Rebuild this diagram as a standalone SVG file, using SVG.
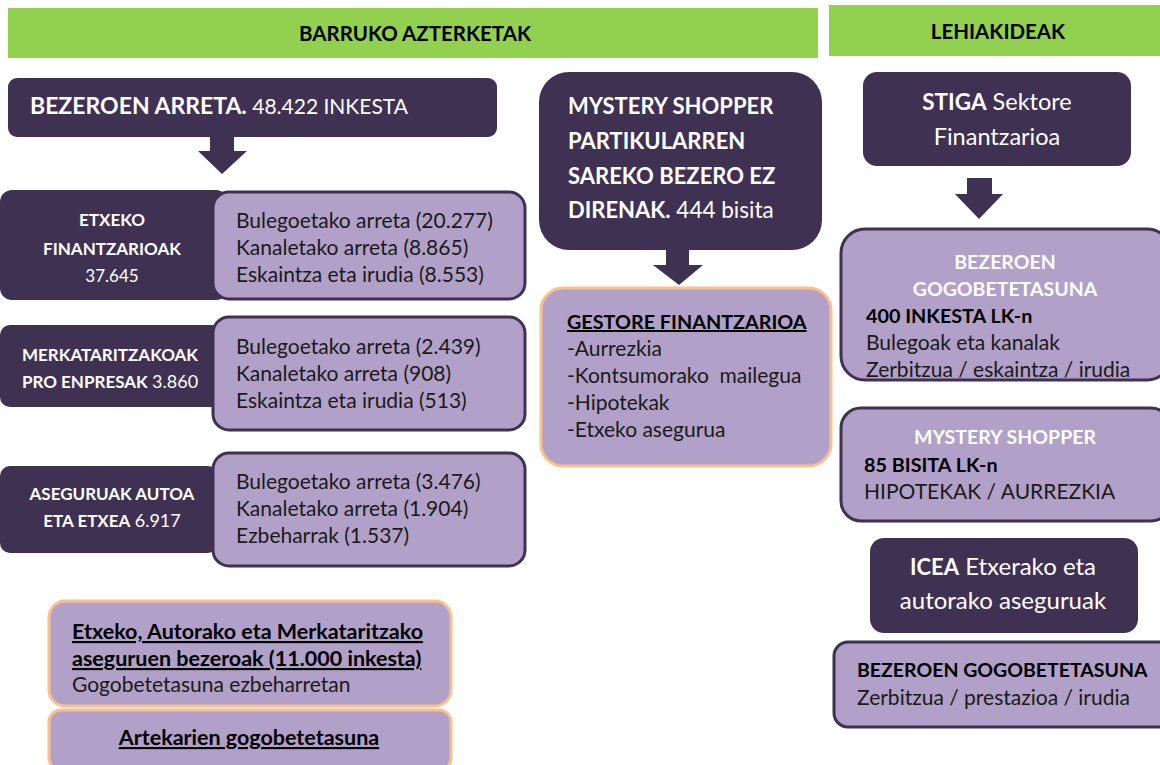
<svg xmlns="http://www.w3.org/2000/svg" width="1160" height="765" viewBox="0 0 1160 765">
<defs>
<style>
text{font-family:Lato,"Open Sans","Liberation Sans",sans-serif;}
.green{fill:#92D050;}
.dark{fill:#3F3151;}
.light{fill:#B1A0C7;stroke:#3F3151;stroke-width:3;}
.orange{fill:#B1A0C7;stroke:#FAC090;stroke-width:3;}
.hdr{font-size:20.5px;font-weight:bold;fill:#000;text-anchor:middle;}
.wb{fill:#fff;font-weight:bold;}
.w{fill:#fff;}
.k{fill:#1a1a1a;font-size:21px;}
.kb{fill:#000;font-weight:bold;font-size:19.8px;}
.u{text-decoration:underline;}
.lbl{font-size:17px;text-anchor:middle;fill:#fff;}
.arrow{fill:#3F3151;}
</style>
</defs>
<rect width="1160" height="765" fill="#fff"/>
<g id="header-barruko">
<rect class="green" x="8" y="8" width="810" height="50"/>
<text class="hdr" x="415" y="41">BARRUKO AZTERKETAK</text>
</g>
<g id="header-lehiakideak">
<rect class="green" x="829" y="5" width="331" height="51"/>
<text class="hdr" x="998" y="39" font-size="21.5">LEHIAKIDEAK</text>
</g>
<g id="connectors">
<path class="arrow" d="M210,135 H234 V151 H247 L222,174 L198,151 H210 Z"/>
<path class="arrow" d="M666,250 H689 V265 H703 L679,285 L653,265 H666 Z"/>
<path class="arrow" d="M967,178 H992 V194 H1003 L979,219 L955,194 H967 Z"/>
</g>
<g id="bezeroen-arreta">
<rect class="dark" x="8" y="78" width="489" height="59" rx="9"/>
<text x="30" y="114" font-size="21" class="w"><tspan font-weight="bold" font-size="23">BEZEROEN ARRETA.</tspan> 48.422 INKESTA</text>
</g>
<g id="etxeko-finantzarioak">
<rect class="dark" x="0" y="190" width="228" height="110" rx="12"/>
<text x="112" y="226" class="lbl" font-weight="bold">ETXEKO</text>
<text x="112" y="255" class="lbl" font-weight="bold">FINANTZARIOAK</text>
<text x="112" y="282" class="lbl" font-size="18">37.645</text>
</g>
<g id="etxeko-detail">
<rect class="light" x="213" y="192" width="312" height="107" rx="16"/>
<text x="236" y="228" class="k">Bulegoetako arreta (20.277)</text>
<text x="236" y="255" class="k">Kanaletako arreta (8.865)</text>
<text x="236" y="282" class="k">Eskaintza eta irudia (8.553)</text>
</g>
<g id="merkataritzakoak">
<rect class="dark" x="0" y="325" width="222" height="82" rx="10"/>
<text x="110" y="361" class="lbl" font-weight="bold">MERKATARITZAKOAK</text>
<text x="110" y="388" class="lbl"><tspan font-weight="bold">PRO ENPRESAK</tspan> <tspan font-size="18">3.860</tspan></text>
</g>
<g id="merkataritzakoak-detail">
<rect class="light" x="213" y="317" width="312" height="113" rx="16"/>
<text x="236" y="354" class="k">Bulegoetako arreta (2.439)</text>
<text x="236" y="381" class="k">Kanaletako arreta (908)</text>
<text x="236" y="408" class="k">Eskaintza eta irudia (513)</text>
</g>
<g id="aseguruak">
<rect class="dark" x="0" y="466" width="218" height="87" rx="10"/>
<text x="112" y="500" class="lbl" font-weight="bold">ASEGURUAK AUTOA</text>
<text x="112" y="527" class="lbl"><tspan font-weight="bold">ETA ETXEA</tspan> <tspan font-size="18">6.917</tspan></text>
</g>
<g id="aseguruak-detail">
<rect class="light" x="213" y="453" width="312" height="113" rx="16"/>
<text x="236" y="489" class="k">Bulegoetako arreta (3.476)</text>
<text x="236" y="516" class="k">Kanaletako arreta (1.904)</text>
<text x="236" y="543" class="k">Ezbeharrak (1.537)</text>
</g>
<g id="etxeko-autorako">
<rect class="orange" x="49" y="601" width="402" height="105" rx="16"/>
<text x="72" y="639" class="kb u" style="font-size:21.5px">Etxeko, Autorako eta Merkataritzako</text>
<text x="72" y="666" class="kb u" style="font-size:21.5px">aseguruen bezeroak (11.000 inkesta)</text>
<text x="72" y="692" class="k">Gogobetetasuna ezbeharretan</text>
</g>
<g id="artekarien">
<rect class="orange" x="49" y="710" width="402" height="60" rx="12"/>
<text x="249" y="745" text-anchor="middle" class="kb u" style="font-size:21.5px">Artekarien gogobetetasuna</text>
</g>
<g id="mystery-shopper">
<rect class="dark" x="539" y="72" width="283" height="178" rx="30"/>
<text x="568" y="114" font-size="22" class="wb">MYSTERY SHOPPER</text>
<text x="568" y="149" font-size="22" class="wb">PARTIKULARREN</text>
<text x="568" y="184" font-size="22" class="wb">SAREKO BEZERO EZ</text>
<text x="568" y="218" font-size="22.5" class="w"><tspan font-weight="bold" font-size="22">DIRENAK.</tspan> 444 bisita</text>
</g>
<g id="gestore-finantzarioa">
<rect class="orange" x="541" y="288" width="290" height="178" rx="22"/>
<text x="567" y="329" class="kb u">GESTORE FINANTZARIOA</text>
<text x="567" y="356" class="k">-Aurrezkia</text>
<text x="567" y="383" class="k" xml:space="preserve">-Kontsumorako  mailegua</text>
<text x="567" y="410" class="k">-Hipotekak</text>
<text x="567" y="437" class="k">-Etxeko asegurua</text>
</g>
<g id="stiga">
<rect class="dark" x="863" y="72" width="268" height="94" rx="14"/>
<text x="997" y="110" font-size="23.5" text-anchor="middle" class="w"><tspan font-weight="bold" font-size="22.5">STIGA</tspan> Sektore</text>
<text x="997" y="145" font-size="23.5" text-anchor="middle" class="w">Finantzarioa</text>
</g>
<g id="bezeroen-gogobetetasuna">
<rect class="light" x="841" y="229" width="330" height="151" rx="24"/>
<text x="1005" y="269" font-size="19.5" text-anchor="middle" class="wb">BEZEROEN</text>
<text x="1005" y="296" font-size="19.5" text-anchor="middle" class="wb">GOGOBETETASUNA</text>
<text x="866" y="323" class="kb">400 INKESTA LK-n</text>
<text x="866" y="350" class="k">Bulegoak eta kanalak</text>
<text x="866" y="377" class="k">Zerbitzua / eskaintza / irudia</text>
</g>
<g id="mystery-shopper-lk">
<rect class="light" x="841" y="408" width="330" height="113" rx="20"/>
<text x="1005" y="444" font-size="19.5" text-anchor="middle" class="wb">MYSTERY SHOPPER</text>
<text x="864" y="472" class="kb">85 BISITA LK-n</text>
<text x="864" y="499" class="k">HIPOTEKAK / AURREZKIA</text>
</g>
<g id="icea">
<rect class="dark" x="870" y="538" width="268" height="95" rx="14"/>
<text x="1003" y="575" font-size="24" text-anchor="middle" class="w"><tspan font-weight="bold" font-size="22">ICEA</tspan> Etxerako eta</text>
<text x="1003" y="609" font-size="24" text-anchor="middle" class="w">autorako aseguruak</text>
</g>
<g id="icea-bezeroen">
<rect class="light" x="834" y="642" width="340" height="85" rx="14"/>
<text x="857" y="677" class="kb" style="font-size:19.5px">BEZEROEN GOGOBETETASUNA</text>
<text x="857" y="705" class="k">Zerbitzua / prestazioa / irudia</text>
</g>
</svg>
